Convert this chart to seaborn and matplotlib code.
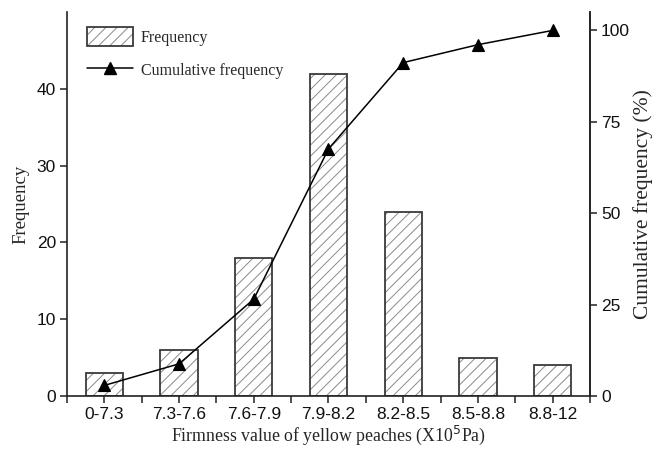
import numpy as np
import pandas as pd
import matplotlib
matplotlib.use("Agg")
import matplotlib.pyplot as plt
from matplotlib.patches import Patch
from matplotlib.lines import Line2D
from matplotlib.ticker import FixedLocator
import seaborn as sns

categories = ["0-7.3", "7.3-7.6", "7.6-7.9", "7.9-8.2", "8.2-8.5", "8.5-8.8", "8.8-12"]
frequency = [3, 6, 18, 42, 24, 5, 4]
cumulative = [2.9, 8.8, 26.5, 67.6, 91.2, 96.1, 100.0]
left_ticks = [0, 10, 20, 30, 40]
right_ticks = [0, 25, 50, 75, 100]

sns.set_theme(style="ticks")
plt.rcParams["font.family"] = ["Liberation Sans", "DejaVu Sans"]
plt.rcParams["hatch.linewidth"] = 0.7

df = pd.DataFrame({"cat": categories, "freq": frequency, "cum": cumulative})

fig = plt.figure(figsize=(6.57, 4.5), dpi=100)
ax = fig.add_axes([0.102, 0.12, 0.796, 0.853])

hatch_col = "#8a8a8a"
edge_col = "#3a3a3a"
sns.barplot(data=df, x="cat", y="freq", ax=ax, color="white", edgecolor=hatch_col,
            hatch="///", linewidth=0, width=0.5, errorbar=None)
sns.barplot(data=df, x="cat", y="freq", ax=ax, fill=False, color=edge_col,
            linewidth=1.3, width=0.5, errorbar=None)

ax.set_xlim(-0.5, 6.5)
ax.set_ylim(0, 50)
ax.set_yticks(left_ticks)
ax.set_xticks(range(len(categories)))
ax.set_xticklabels(categories)
ax.xaxis.set_minor_locator(FixedLocator(np.arange(-0.5, 7, 1.0)))
ax.tick_params(axis="both", which="major", direction="out", length=5, width=1.1,
               labelsize=12.5, color="#222222", labelcolor="#111111", pad=3)
ax.tick_params(axis="x", which="minor", direction="out", length=5, width=1.1, color="#222222")
ax.set_xlabel("Firmness value of yellow peaches (X10$^5$Pa)", family="Liberation Serif",
              fontsize=12.8, labelpad=1)
ax.set_ylabel("Frequency", family="Liberation Serif", fontsize=13.5, labelpad=5)
for s in ["left", "bottom", "right"]:
    ax.spines[s].set_linewidth(1.2)
    ax.spines[s].set_color("#222222")
ax.spines["top"].set_visible(False)

ax2 = ax.twinx()
sns.pointplot(data=df, x="cat", y="cum", ax=ax2, color="black", markers="^",
              markersize=8, linewidth=1.1, errorbar=None)
ax2.set_xlim(-0.5, 6.5)
ax2.set_ylim(0, 105)
ax2.set_yticks(right_ticks)
ax2.tick_params(axis="y", direction="out", length=5, width=1.1, labelsize=12.5,
                color="#222222", labelcolor="#111111", pad=3)
ax2.set_ylabel("Cumulative frequency (%)", family="Liberation Serif", fontsize=15.5, labelpad=2)
ax2.set_xlabel("")
ax2.spines["top"].set_visible(False)
ax2.spines["right"].set_linewidth(1.2)
ax2.spines["right"].set_color("#222222")
ax2.spines["left"].set_visible(False)
ax2.spines["bottom"].set_visible(False)

bar_handle = (Patch(facecolor="white", edgecolor=hatch_col, hatch="///", linewidth=0),
              Patch(facecolor="none", edgecolor=edge_col, linewidth=1.3))
line_handle = Line2D([], [], color="black", marker="^", markersize=8, linewidth=1.1)
leg = ax.legend([bar_handle, line_handle], ["Frequency", "Cumulative frequency"],
                loc="upper left", bbox_to_anchor=(0.01, 1.0), frameon=False,
                prop={"family": "Liberation Serif", "size": 11.5},
                handlelength=2.9, handleheight=1.5, labelspacing=0.9, handletextpad=0.5)

fig.savefig("out.png", dpi=100)
